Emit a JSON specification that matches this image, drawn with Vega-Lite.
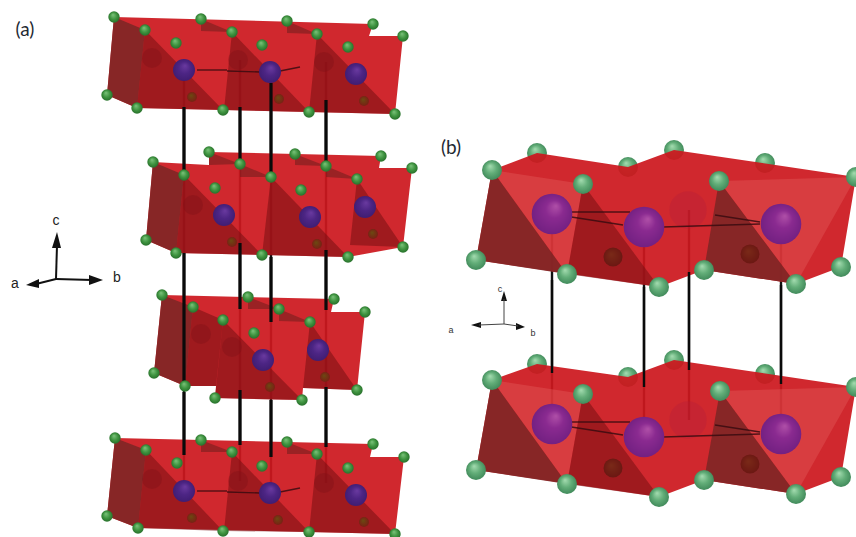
{
  "$schema": "https://vega.github.io/schema/vega-lite/v6.json",
  "width": 856,
  "height": 537,
  "autosize": {"type": "none"},
  "padding": 0,
  "background": "white",
  "config": {"view": {"stroke": null}},
  "datasets": {
    "faces": [
      {"g":"a1b","o":0,"x":114,"y":17,"k":"base"},{"g":"a1b","o":1,"x":373,"y":24,"k":"base"},{"g":"a1b","o":2,"x":369,"y":36,"k":"base"},{"g":"a1b","o":3,"x":403,"y":36,"k":"base"},{"g":"a1b","o":4,"x":395,"y":114,"k":"base"},{"g":"a1b","o":5,"x":137,"y":108,"k":"base"},{"g":"a1b","o":6,"x":107,"y":95,"k":"base"},
      {"g":"a1l","o":0,"x":114,"y":17,"k":"left"},{"g":"a1l","o":1,"x":107,"y":95,"k":"left"},{"g":"a1l","o":2,"x":137,"y":108,"k":"left"},{"g":"a1l","o":3,"x":145,"y":30,"k":"left"},
      {"g":"a1s1","o":0,"x":145,"y":30,"k":"shade"},{"g":"a1s1","o":1,"x":137,"y":108,"k":"shade"},{"g":"a1s1","o":2,"x":223,"y":110,"k":"shade"},
      {"g":"a1s2","o":0,"x":232,"y":32,"k":"shade"},{"g":"a1s2","o":1,"x":224,"y":110,"k":"shade"},{"g":"a1s2","o":2,"x":309,"y":112,"k":"shade"},
      {"g":"a1s3","o":0,"x":317,"y":34,"k":"shade"},{"g":"a1s3","o":1,"x":309,"y":112,"k":"shade"},{"g":"a1s3","o":2,"x":395,"y":114,"k":"shade"},
      {"g":"a1t1","o":0,"x":201,"y":19,"k":"tint"},{"g":"a1t1","o":1,"x":232,"y":32,"k":"tint"},{"g":"a1t1","o":2,"x":201,"y":31,"k":"tint"},
      {"g":"a1t2","o":0,"x":287,"y":21,"k":"tint"},{"g":"a1t2","o":1,"x":317,"y":34,"k":"tint"},{"g":"a1t2","o":2,"x":287,"y":33,"k":"tint"},

      {"g":"a2b","o":0,"x":153,"y":162,"k":"base"},{"g":"a2b","o":1,"x":209,"y":165,"k":"base"},{"g":"a2b","o":2,"x":209,"y":152,"k":"base"},{"g":"a2b","o":3,"x":381,"y":156,"k":"base"},{"g":"a2b","o":4,"x":379,"y":168,"k":"base"},{"g":"a2b","o":5,"x":412,"y":168,"k":"base"},{"g":"a2b","o":6,"x":403,"y":247,"k":"base"},{"g":"a2b","o":7,"x":348,"y":257,"k":"base"},{"g":"a2b","o":8,"x":176,"y":253,"k":"base"},{"g":"a2b","o":9,"x":146,"y":240,"k":"base"},
      {"g":"a2l","o":0,"x":153,"y":162,"k":"left"},{"g":"a2l","o":1,"x":146,"y":240,"k":"left"},{"g":"a2l","o":2,"x":176,"y":253,"k":"left"},{"g":"a2l","o":3,"x":184,"y":175,"k":"left"},
      {"g":"a2s1","o":0,"x":184,"y":175,"k":"shade"},{"g":"a2s1","o":1,"x":176,"y":253,"k":"shade"},{"g":"a2s1","o":2,"x":262,"y":255,"k":"shade"},
      {"g":"a2s2","o":0,"x":271,"y":177,"k":"shade"},{"g":"a2s2","o":1,"x":262,"y":255,"k":"shade"},{"g":"a2s2","o":2,"x":348,"y":257,"k":"shade"},
      {"g":"a2s3","o":0,"x":357,"y":179,"k":"shade"},{"g":"a2s3","o":1,"x":350,"y":245,"k":"shade"},{"g":"a2s3","o":2,"x":403,"y":247,"k":"shade"},
      {"g":"a2t1","o":0,"x":209,"y":152,"k":"tint"},{"g":"a2t1","o":1,"x":240,"y":164,"k":"tint"},{"g":"a2t1","o":2,"x":209,"y":165,"k":"tint"},
      {"g":"a2t2","o":0,"x":295,"y":154,"k":"tint"},{"g":"a2t2","o":1,"x":326,"y":166,"k":"tint"},{"g":"a2t2","o":2,"x":295,"y":165,"k":"tint"},
      {"g":"a2t3","o":0,"x":240,"y":164,"k":"tint"},{"g":"a2t3","o":1,"x":271,"y":177,"k":"tint"},{"g":"a2t3","o":2,"x":240,"y":177,"k":"tint"},
      {"g":"a2t4","o":0,"x":326,"y":166,"k":"tint"},{"g":"a2t4","o":1,"x":357,"y":179,"k":"tint"},{"g":"a2t4","o":2,"x":326,"y":177,"k":"tint"},

      {"g":"a3b","o":0,"x":162,"y":295,"k":"base"},{"g":"a3b","o":1,"x":334,"y":299,"k":"base"},{"g":"a3b","o":2,"x":331,"y":312,"k":"base"},{"g":"a3b","o":3,"x":365,"y":312,"k":"base"},{"g":"a3b","o":4,"x":357,"y":390,"k":"base"},{"g":"a3b","o":5,"x":303,"y":388,"k":"base"},{"g":"a3b","o":6,"x":302,"y":400,"k":"base"},{"g":"a3b","o":7,"x":215,"y":398,"k":"base"},{"g":"a3b","o":8,"x":216,"y":386,"k":"base"},{"g":"a3b","o":9,"x":185,"y":386,"k":"base"},{"g":"a3b","o":10,"x":154,"y":373,"k":"base"},
      {"g":"a3l","o":0,"x":162,"y":295,"k":"left"},{"g":"a3l","o":1,"x":154,"y":373,"k":"left"},{"g":"a3l","o":2,"x":185,"y":386,"k":"left"},{"g":"a3l","o":3,"x":193,"y":307,"k":"left"},
      {"g":"a3s1","o":0,"x":193,"y":307,"k":"shade"},{"g":"a3s1","o":1,"x":185,"y":386,"k":"shade"},{"g":"a3s1","o":2,"x":216,"y":386,"k":"shade"},{"g":"a3s1","o":3,"x":223,"y":320,"k":"shade"},
      {"g":"a3s2","o":0,"x":223,"y":320,"k":"shade"},{"g":"a3s2","o":1,"x":215,"y":398,"k":"shade"},{"g":"a3s2","o":2,"x":302,"y":400,"k":"shade"},
      {"g":"a3s3","o":0,"x":310,"y":322,"k":"shade"},{"g":"a3s3","o":1,"x":303,"y":388,"k":"shade"},{"g":"a3s3","o":2,"x":357,"y":390,"k":"shade"},
      {"g":"a3t1","o":0,"x":248,"y":297,"k":"tint"},{"g":"a3t1","o":1,"x":279,"y":309,"k":"tint"},{"g":"a3t1","o":2,"x":248,"y":309,"k":"tint"},
      {"g":"a3t2","o":0,"x":279,"y":309,"k":"tint"},{"g":"a3t2","o":1,"x":310,"y":322,"k":"tint"},{"g":"a3t2","o":2,"x":279,"y":321,"k":"tint"},

      {"g":"a4b","o":0,"x":115,"y":438,"k":"base"},{"g":"a4b","o":1,"x":373,"y":444,"k":"base"},{"g":"a4b","o":2,"x":370,"y":457,"k":"base"},{"g":"a4b","o":3,"x":404,"y":457,"k":"base"},{"g":"a4b","o":4,"x":395,"y":534,"k":"base"},{"g":"a4b","o":5,"x":138,"y":528,"k":"base"},{"g":"a4b","o":6,"x":107,"y":516,"k":"base"},
      {"g":"a4l","o":0,"x":115,"y":438,"k":"left"},{"g":"a4l","o":1,"x":107,"y":516,"k":"left"},{"g":"a4l","o":2,"x":138,"y":528,"k":"left"},{"g":"a4l","o":3,"x":146,"y":450,"k":"left"},
      {"g":"a4s1","o":0,"x":146,"y":450,"k":"shade"},{"g":"a4s1","o":1,"x":138,"y":528,"k":"shade"},{"g":"a4s1","o":2,"x":223,"y":531,"k":"shade"},
      {"g":"a4s2","o":0,"x":232,"y":452,"k":"shade"},{"g":"a4s2","o":1,"x":224,"y":531,"k":"shade"},{"g":"a4s2","o":2,"x":309,"y":532,"k":"shade"},
      {"g":"a4s3","o":0,"x":317,"y":454,"k":"shade"},{"g":"a4s3","o":1,"x":309,"y":532,"k":"shade"},{"g":"a4s3","o":2,"x":395,"y":534,"k":"shade"},
      {"g":"a4t1","o":0,"x":201,"y":440,"k":"tint"},{"g":"a4t1","o":1,"x":232,"y":452,"k":"tint"},{"g":"a4t1","o":2,"x":201,"y":452,"k":"tint"},
      {"g":"a4t2","o":0,"x":287,"y":442,"k":"tint"},{"g":"a4t2","o":1,"x":317,"y":454,"k":"tint"},{"g":"a4t2","o":2,"x":287,"y":454,"k":"tint"},

      {"g":"b1b","o":0,"x":492,"y":170,"k":"base"},{"g":"b1b","o":1,"x":537,"y":153,"k":"base"},{"g":"b1b","o":2,"x":628,"y":167,"k":"base"},{"g":"b1b","o":3,"x":674,"y":150,"k":"base"},{"g":"b1b","o":4,"x":856,"y":177,"k":"base"},{"g":"b1b","o":5,"x":841,"y":267,"k":"base"},{"g":"b1b","o":6,"x":796,"y":284,"k":"base"},{"g":"b1b","o":7,"x":704,"y":270,"k":"base"},{"g":"b1b","o":8,"x":659,"y":287,"k":"base"},{"g":"b1b","o":9,"x":476,"y":260,"k":"base"},
      {"g":"b1h1","o":0,"x":492,"y":170,"k":"light"},{"g":"b1h1","o":1,"x":583,"y":184,"k":"light"},{"g":"b1h1","o":2,"x":567,"y":274,"k":"light"},
      {"g":"b1h2","o":0,"x":719,"y":181,"k":"light"},{"g":"b1h2","o":1,"x":856,"y":177,"k":"light"},{"g":"b1h2","o":2,"x":796,"y":284,"k":"light"},
      {"g":"b1l","o":0,"x":492,"y":170,"k":"left"},{"g":"b1l","o":1,"x":476,"y":260,"k":"left"},{"g":"b1l","o":2,"x":567,"y":274,"k":"left"},
      {"g":"b1s1","o":0,"x":583,"y":184,"k":"shade"},{"g":"b1s1","o":1,"x":567,"y":274,"k":"shade"},{"g":"b1s1","o":2,"x":659,"y":287,"k":"shade"},
      {"g":"b1s2","o":0,"x":719,"y":181,"k":"left"},{"g":"b1s2","o":1,"x":704,"y":270,"k":"left"},{"g":"b1s2","o":2,"x":796,"y":284,"k":"left"},

      {"g":"b2b","o":0,"x":492,"y":380,"k":"base"},{"g":"b2b","o":1,"x":537,"y":364,"k":"base"},{"g":"b2b","o":2,"x":628,"y":377,"k":"base"},{"g":"b2b","o":3,"x":674,"y":360,"k":"base"},{"g":"b2b","o":4,"x":856,"y":387,"k":"base"},{"g":"b2b","o":5,"x":841,"y":477,"k":"base"},{"g":"b2b","o":6,"x":796,"y":494,"k":"base"},{"g":"b2b","o":7,"x":704,"y":480,"k":"base"},{"g":"b2b","o":8,"x":659,"y":497,"k":"base"},{"g":"b2b","o":9,"x":476,"y":470,"k":"base"},
      {"g":"b2h1","o":0,"x":492,"y":380,"k":"light"},{"g":"b2h1","o":1,"x":583,"y":394,"k":"light"},{"g":"b2h1","o":2,"x":567,"y":484,"k":"light"},
      {"g":"b2h2","o":0,"x":720,"y":391,"k":"light"},{"g":"b2h2","o":1,"x":856,"y":387,"k":"light"},{"g":"b2h2","o":2,"x":796,"y":494,"k":"light"},
      {"g":"b2l","o":0,"x":492,"y":380,"k":"left"},{"g":"b2l","o":1,"x":476,"y":470,"k":"left"},{"g":"b2l","o":2,"x":567,"y":484,"k":"left"},
      {"g":"b2s1","o":0,"x":583,"y":394,"k":"shade"},{"g":"b2s1","o":1,"x":567,"y":484,"k":"shade"},{"g":"b2s1","o":2,"x":659,"y":497,"k":"shade"},
      {"g":"b2s2","o":0,"x":720,"y":391,"k":"left"},{"g":"b2s2","o":1,"x":704,"y":480,"k":"left"},{"g":"b2s2","o":2,"x":796,"y":494,"k":"left"},

      {"g":"h1","o":0,"x":57,"y":232,"k":"ink"},{"g":"h1","o":1,"x":52,"y":248,"k":"ink"},{"g":"h1","o":2,"x":61,"y":248,"k":"ink"},
      {"g":"h2","o":0,"x":103,"y":280,"k":"ink"},{"g":"h2","o":1,"x":89,"y":275,"k":"ink"},{"g":"h2","o":2,"x":89,"y":285,"k":"ink"},
      {"g":"h3","o":0,"x":26,"y":285,"k":"ink"},{"g":"h3","o":1,"x":39,"y":279,"k":"ink"},{"g":"h3","o":2,"x":39,"y":288,"k":"ink"},
      {"g":"h4","o":0,"x":504,"y":291,"k":"ink"},{"g":"h4","o":1,"x":501,"y":301,"k":"ink"},{"g":"h4","o":2,"x":507,"y":301,"k":"ink"},
      {"g":"h5","o":0,"x":525,"y":327,"k":"ink"},{"g":"h5","o":1,"x":516,"y":323,"k":"ink"},{"g":"h5","o":2,"x":516,"y":330,"k":"ink"},
      {"g":"h6","o":0,"x":471,"y":325,"k":"ink"},{"g":"h6","o":1,"x":481,"y":322,"k":"ink"},{"g":"h6","o":2,"x":481,"y":328,"k":"ink"}
    ],
    "atoms": [
      {"a":"gb","x":537,"y":153,"back":true},{"a":"gb","x":628,"y":167,"back":true},{"a":"gb","x":674,"y":150,"back":true},{"a":"gb","x":765,"y":163,"back":true},
      {"a":"gb","x":537,"y":364,"back":true},{"a":"gb","x":628,"y":377,"back":true},{"a":"gb","x":674,"y":360,"back":true},{"a":"gb","x":765,"y":374,"back":true},

      {"a":"ga","x":114,"y":17},{"a":"ga","x":145,"y":30},{"a":"ga","x":176,"y":43},{"a":"ga","x":201,"y":19},{"a":"ga","x":232,"y":32},{"a":"ga","x":262,"y":45},{"a":"ga","x":287,"y":21},{"a":"ga","x":317,"y":34},{"a":"ga","x":348,"y":47},{"a":"ga","x":373,"y":24},{"a":"ga","x":403,"y":36},
      {"a":"ga","x":107,"y":95},{"a":"ga","x":137,"y":108},{"a":"ga","x":223,"y":110},{"a":"ga","x":309,"y":112},{"a":"ga","x":395,"y":114},
      {"a":"ga","x":153,"y":162},{"a":"ga","x":184,"y":175},{"a":"ga","x":215,"y":188},{"a":"ga","x":209,"y":152},{"a":"ga","x":240,"y":164},{"a":"ga","x":271,"y":177},{"a":"ga","x":301,"y":190},{"a":"ga","x":295,"y":154},{"a":"ga","x":326,"y":166},{"a":"ga","x":357,"y":179},{"a":"ga","x":381,"y":156},{"a":"ga","x":412,"y":168},
      {"a":"ga","x":146,"y":240},{"a":"ga","x":176,"y":253},{"a":"ga","x":262,"y":255},{"a":"ga","x":348,"y":257},{"a":"ga","x":403,"y":247},
      {"a":"ga","x":162,"y":295},{"a":"ga","x":193,"y":307},{"a":"ga","x":223,"y":320},{"a":"ga","x":248,"y":297},{"a":"ga","x":279,"y":309},{"a":"ga","x":310,"y":322},{"a":"ga","x":254,"y":333},{"a":"ga","x":334,"y":299},{"a":"ga","x":365,"y":312},
      {"a":"ga","x":154,"y":373},{"a":"ga","x":185,"y":386},{"a":"ga","x":215,"y":398},{"a":"ga","x":302,"y":400},{"a":"ga","x":357,"y":390},
      {"a":"ga","x":115,"y":438},{"a":"ga","x":146,"y":450},{"a":"ga","x":177,"y":463},{"a":"ga","x":201,"y":440},{"a":"ga","x":232,"y":452},{"a":"ga","x":262,"y":466},{"a":"ga","x":287,"y":442},{"a":"ga","x":317,"y":454},{"a":"ga","x":348,"y":468},{"a":"ga","x":373,"y":444},{"a":"ga","x":404,"y":457},
      {"a":"ga","x":107,"y":516},{"a":"ga","x":138,"y":528},{"a":"ga","x":223,"y":531},{"a":"ga","x":309,"y":532},{"a":"ga","x":395,"y":534},

      {"a":"gb","x":492,"y":170},{"a":"gb","x":583,"y":184},{"a":"gb","x":719,"y":181},{"a":"gb","x":856,"y":177},{"a":"gb","x":476,"y":260},{"a":"gb","x":567,"y":274},{"a":"gb","x":659,"y":287},{"a":"gb","x":704,"y":270},{"a":"gb","x":796,"y":284},{"a":"gb","x":841,"y":267},
      {"a":"gb","x":492,"y":380},{"a":"gb","x":583,"y":394},{"a":"gb","x":720,"y":391},{"a":"gb","x":856,"y":387},{"a":"gb","x":476,"y":470},{"a":"gb","x":567,"y":484},{"a":"gb","x":659,"y":497},{"a":"gb","x":704,"y":480},{"a":"gb","x":796,"y":494},{"a":"gb","x":841,"y":477},

      {"a":"pa","x":184,"y":70},{"a":"pa","x":270,"y":72},{"a":"pa","x":356,"y":74},{"a":"pa","x":224,"y":215},{"a":"pa","x":310,"y":217},{"a":"pa","x":365,"y":207},{"a":"pa","x":263,"y":360},{"a":"pa","x":318,"y":350},{"a":"pa","x":184,"y":491},{"a":"pa","x":270,"y":493},{"a":"pa","x":356,"y":495},
      {"a":"pb","x":552,"y":214},{"a":"pb","x":644,"y":227},{"a":"pb","x":781,"y":224},{"a":"pb","x":552,"y":424},{"a":"pb","x":644,"y":437},{"a":"pb","x":781,"y":434},

      {"a":"da","x":192,"y":97},{"a":"da","x":279,"y":99},{"a":"da","x":364,"y":101},{"a":"da","x":232,"y":242},{"a":"da","x":317,"y":244},{"a":"da","x":373,"y":234},{"a":"da","x":270,"y":387},{"a":"da","x":325,"y":377},{"a":"da","x":192,"y":518},{"a":"da","x":278,"y":520},{"a":"da","x":364,"y":522},
      {"a":"db","x":613,"y":257},{"a":"db","x":750,"y":254},{"a":"db","x":613,"y":468},{"a":"db","x":750,"y":464},

      {"a":"ba","x":152,"y":58},{"a":"ba","x":238,"y":60},{"a":"ba","x":324,"y":62},{"a":"ba","x":193,"y":205},{"a":"ba","x":201,"y":334},{"a":"ba","x":232,"y":347},{"a":"ba","x":152,"y":479},{"a":"ba","x":238,"y":481},{"a":"ba","x":324,"y":483},
      {"a":"bb","x":688,"y":210},{"a":"bb","x":688,"y":420}
    ],
    "sticks": [
      {"s":"under","x":184,"y":70,"x2":184,"y2":491},{"s":"under","x":240,"y":60,"x2":240,"y2":481},{"s":"under","x":271,"y":72,"x2":271,"y2":493},{"s":"under","x":326,"y":62,"x2":326,"y2":483},
      {"s":"under","x":552,"y":214,"x2":552,"y2":424},{"s":"under","x":644,"y":227,"x2":644,"y2":437},{"s":"under","x":689,"y":210,"x2":689,"y2":420},{"s":"under","x":781,"y":224,"x2":781,"y2":434},

      {"s":"a","x":184,"y":107,"x2":184,"y2":170},{"s":"a","x":184,"y":253,"x2":184,"y2":381},{"s":"a","x":184,"y":392,"x2":184,"y2":455},
      {"s":"a","x":240,"y":107,"x2":240,"y2":160},{"s":"a","x":240,"y":243,"x2":240,"y2":309},{"s":"a","x":240,"y":390,"x2":240,"y2":445},
      {"s":"a","x":271,"y":83,"x2":271,"y2":173},{"s":"a","x":271,"y":257,"x2":271,"y2":322},{"s":"a","x":271,"y":400,"x2":271,"y2":457},
      {"s":"a","x":326,"y":100,"x2":326,"y2":163},{"s":"a","x":326,"y":250,"x2":326,"y2":310},{"s":"a","x":326,"y":387,"x2":326,"y2":447},

      {"s":"b","x":552,"y":280,"x2":552,"y2":373},{"s":"b","x":644,"y":287,"x2":644,"y2":387},{"s":"b","x":689,"y":272,"x2":689,"y2":370},{"s":"b","x":781,"y":285,"x2":781,"y2":384},

      {"s":"thin","x":197,"y":70,"x2":227,"y2":70},{"s":"thin","x":227,"y":71,"x2":260,"y2":72},{"s":"thin","x":280,"y":71,"x2":300,"y2":67},
      {"s":"thin","x":197,"y":491,"x2":227,"y2":491},{"s":"thin","x":227,"y":492,"x2":260,"y2":493},{"s":"thin","x":280,"y":492,"x2":300,"y2":488},
      {"s":"thin","x":565,"y":216,"x2":623,"y2":225},{"s":"thin","x":572,"y":212,"x2":630,"y2":212},{"s":"thin","x":663,"y":227,"x2":760,"y2":224},{"s":"thin","x":715,"y":215,"x2":760,"y2":222},
      {"s":"thin","x":565,"y":426,"x2":623,"y2":435},{"s":"thin","x":572,"y":422,"x2":630,"y2":422},{"s":"thin","x":663,"y":437,"x2":760,"y2":434},{"s":"thin","x":715,"y":425,"x2":760,"y2":432},

      {"s":"axa","x":56,"y":279,"x2":57,"y2":245},{"s":"axa","x":56,"y":279,"x2":92,"y2":280},{"s":"axa","x":56,"y":279,"x2":36,"y2":284},
      {"s":"axb","x":504,"y":324,"x2":504,"y2":299},{"s":"axb","x":504,"y":324,"x2":518,"y2":326},{"s":"axb","x":504,"y":324,"x2":479,"y2":325}
    ],
    "labels": [
      {"l":"big","t":"(a)","x":25,"y":30},
      {"l":"big","t":"(b)","x":451,"y":148},
      {"l":"axa","t":"c","x":56,"y":221},
      {"l":"axa","t":"a","x":15,"y":284},
      {"l":"axa","t":"b","x":117,"y":278},
      {"l":"axb","t":"c","x":500,"y":289},
      {"l":"axb","t":"a","x":451,"y":330},
      {"l":"axb","t":"b","x":533,"y":333}
    ]
  },
  "encoding": {
    "x": {"field": "x", "type": "quantitative", "scale": {"domain": [0, 856], "nice": false, "zero": false}, "axis": null},
    "y": {"field": "y", "type": "quantitative", "scale": {"domain": [537, 0], "nice": false, "zero": false}, "axis": null}
  },
  "layer": [
    {
      "data": {"name": "sticks"},
      "transform": [{"filter": "datum.s === 'under'"}],
      "mark": {"type": "rule", "color": "#111111", "strokeWidth": 2.4},
      "encoding": {"x2": {"field": "x2"}, "y2": {"field": "y2"}}
    },
    {
      "data": {"name": "atoms"},
      "transform": [{"filter": "datum.back === true"}],
      "mark": {"type": "circle", "size": 400, "opacity": 1, "fill": {"gradient": "radial", "x1": 0.4, "y1": 0.3, "r1": 0, "x2": 0.5, "y2": 0.5, "r2": 0.55, "stops": [{"offset": 0, "color": "#a4dcb0"}, {"offset": 0.5, "color": "#62ad78"}, {"offset": 1, "color": "#3c8556"}]}}
    },
    {
      "data": {"name": "faces"},
      "mark": {"type": "line", "strokeWidth": 0, "interpolate": "linear-closed"},
      "encoding": {
        "order": {"field": "o", "type": "quantitative"},
        "detail": {"field": "g"},
        "fill": {
          "field": "k",
          "type": "nominal",
          "legend": null,
          "scale": {
            "domain": ["base", "light", "left", "shade", "tint", "ink"],
            "range": ["rgba(204,24,30,0.93)", "rgba(226,90,90,0.42)", "rgba(128,38,38,0.92)", "rgba(118,14,18,0.55)", "rgba(110,30,30,0.55)", "#111111"]
          }
        }
      }
    },
    {
      "data": {"name": "atoms"},
      "transform": [{"filter": "datum.a === 'ba'"}],
      "mark": {"type": "circle", "size": 400, "opacity": 0.35, "color": "#7a1216"}
    },
    {
      "data": {"name": "atoms"},
      "transform": [{"filter": "datum.a === 'bb'"}],
      "mark": {"type": "circle", "size": 1400, "opacity": 0.3, "color": "#b01f3a"}
    },
    {
      "data": {"name": "sticks"},
      "transform": [{"filter": "datum.s === 'a'"}],
      "mark": {"type": "rule", "color": "#0a0a0a", "strokeWidth": 3.2},
      "encoding": {"x2": {"field": "x2"}, "y2": {"field": "y2"}}
    },
    {
      "data": {"name": "sticks"},
      "transform": [{"filter": "datum.s === 'b'"}],
      "mark": {"type": "rule", "color": "#0a0a0a", "strokeWidth": 2.4},
      "encoding": {"x2": {"field": "x2"}, "y2": {"field": "y2"}}
    },
    {
      "data": {"name": "sticks"},
      "transform": [{"filter": "datum.s === 'thin'"}],
      "mark": {"type": "rule", "color": "#3a0c10", "strokeWidth": 1.4, "opacity": 0.85},
      "encoding": {"x2": {"field": "x2"}, "y2": {"field": "y2"}}
    },
    {
      "data": {"name": "sticks"},
      "transform": [{"filter": "datum.s === 'axa'"}],
      "mark": {"type": "rule", "color": "#111111", "strokeWidth": 2},
      "encoding": {"x2": {"field": "x2"}, "y2": {"field": "y2"}}
    },
    {
      "data": {"name": "sticks"},
      "transform": [{"filter": "datum.s === 'axb'"}],
      "mark": {"type": "rule", "color": "#444444", "strokeWidth": 1},
      "encoding": {"x2": {"field": "x2"}, "y2": {"field": "y2"}}
    },
    {
      "data": {"name": "atoms"},
      "transform": [{"filter": "datum.a === 'da'"}],
      "mark": {"type": "circle", "size": 100, "opacity": 1, "fill": {"gradient": "radial", "x1": 0.4, "y1": 0.35, "r1": 0, "x2": 0.5, "y2": 0.5, "r2": 0.55, "stops": [{"offset": 0, "color": "#6b4a12"}, {"offset": 1, "color": "#7a1d14"}]}}
    },
    {
      "data": {"name": "atoms"},
      "transform": [{"filter": "datum.a === 'db'"}],
      "mark": {"type": "circle", "size": 361, "opacity": 1, "fill": {"gradient": "radial", "x1": 0.4, "y1": 0.35, "r1": 0, "x2": 0.5, "y2": 0.5, "r2": 0.55, "stops": [{"offset": 0, "color": "#7a2a18"}, {"offset": 1, "color": "#6a1612"}]}}
    },
    {
      "data": {"name": "atoms"},
      "transform": [{"filter": "datum.a === 'ga'"}],
      "mark": {"type": "circle", "size": 130, "opacity": 1, "fill": {"gradient": "radial", "x1": 0.4, "y1": 0.3, "r1": 0, "x2": 0.5, "y2": 0.5, "r2": 0.55, "stops": [{"offset": 0, "color": "#7cc47c"}, {"offset": 0.55, "color": "#3f9440"}, {"offset": 1, "color": "#246a28"}]}}
    },
    {
      "data": {"name": "atoms"},
      "transform": [{"filter": "datum.a === 'gb' && !datum.back"}],
      "mark": {"type": "circle", "size": 400, "opacity": 1, "fill": {"gradient": "radial", "x1": 0.4, "y1": 0.3, "r1": 0, "x2": 0.5, "y2": 0.5, "r2": 0.55, "stops": [{"offset": 0, "color": "#a4dcb0"}, {"offset": 0.5, "color": "#62ad78"}, {"offset": 1, "color": "#3c8556"}]}}
    },
    {
      "data": {"name": "atoms"},
      "transform": [{"filter": "datum.a === 'pa'"}],
      "mark": {"type": "circle", "size": 484, "opacity": 1, "fill": {"gradient": "radial", "x1": 0.55, "y1": 0.3, "r1": 0, "x2": 0.5, "y2": 0.5, "r2": 0.55, "stops": [{"offset": 0, "color": "#6a3aa0"}, {"offset": 0.5, "color": "#4c2584"}, {"offset": 1, "color": "#3e1c70"}]}}
    },
    {
      "data": {"name": "atoms"},
      "transform": [{"filter": "datum.a === 'pb'"}],
      "mark": {"type": "circle", "size": 1650, "opacity": 1, "fill": {"gradient": "radial", "x1": 0.6, "y1": 0.3, "r1": 0, "x2": 0.5, "y2": 0.5, "r2": 0.55, "stops": [{"offset": 0, "color": "#b050a8"}, {"offset": 0.4, "color": "#8a2a90"}, {"offset": 1, "color": "#701f80"}]}}
    },
    {
      "data": {"name": "labels"},
      "transform": [{"filter": "datum.l === 'big'"}],
      "mark": {"type": "text", "font": "Lato", "fontSize": 19, "color": "#1f2a33"},
      "encoding": {"text": {"field": "t"}}
    },
    {
      "data": {"name": "labels"},
      "transform": [{"filter": "datum.l === 'axa'"}],
      "mark": {"type": "text", "font": "Liberation Sans", "fontSize": 14, "color": "#222222"},
      "encoding": {"text": {"field": "t"}}
    },
    {
      "data": {"name": "labels"},
      "transform": [{"filter": "datum.l === 'axb'"}],
      "mark": {"type": "text", "font": "Liberation Sans", "fontSize": 9, "color": "#333333"},
      "encoding": {"text": {"field": "t"}}
    }
  ]
}
